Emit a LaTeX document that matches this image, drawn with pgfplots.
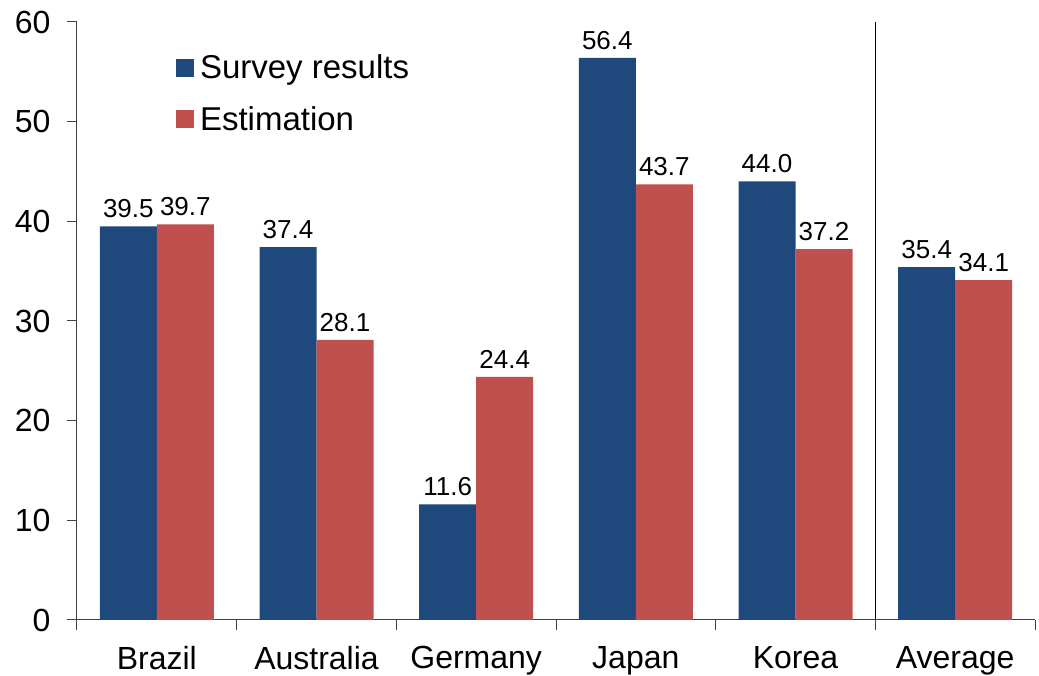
\documentclass[border=0pt]{standalone}
\usepackage{fontspec}
\setmainfont{Liberation Sans}
\usepackage{pgfplots}
\pgfplotsset{compat=1.18}
\definecolor{survey}{HTML}{1F497D}
\definecolor{estim}{HTML}{C0504D}
\definecolor{axisgray}{HTML}{404040}
\begin{document}
\begin{tikzpicture}
\useasboundingbox (-77pt,-56pt) rectangle (962pt,620pt);
\begin{axis}[
  at={(0pt,0pt)}, anchor=south west,
  scale only axis, width=958pt, height=598pt,
  xmin=-0.5, xmax=5.5, ymin=0, ymax=60,
  ybar=0pt, bar width=57pt,
  axis x line*=bottom, axis y line*=left,
  axis line style={axisgray, line width=1pt},
  tick align=outside, major tick length=10pt,
  tick style={axisgray, line width=1pt},
  ytick={0,10,...,60},
  xtick={-0.5,0.5,...,5.5},
  x tick label as interval,
  xticklabels={Brazil,Australia,Germany,Japan,Korea,Average},
  xticklabel style={font=\fontsize{32}{38}\selectfont, yshift=-13pt},
  yticklabel style={font=\fontsize{32}{38}\selectfont, xshift=-13pt},
  /pgf/number format/assume math mode=true,
  nodes near coords,
  nodes near coords style={font=\fontsize{26}{30}\selectfont, anchor=south, yshift=5pt,
    /pgf/number format/fixed, /pgf/number format/fixed zerofill, /pgf/number format/precision=1},
  legend style={at={(0.1,0.952)}, anchor=north west, draw=none, fill=none,
    font=\fontsize{33}{39}\selectfont, row sep=22pt, column sep=4pt},
  legend cell align=left,
  legend image code/.code={\fill[#1] (0pt,-9pt) rectangle (18pt,9pt);},
  clip=false,
]
\addplot[fill=survey, draw=none] coordinates {
  (0,39.5) (1,37.4) (2,11.6) (3,56.4) (4,44.0) (5,35.4)};
\addlegendentry{Survey results}
\addplot[fill=estim, draw=none] coordinates {
  (0,39.7) (1,28.1) (2,24.4) (3,43.7) (4,37.2) (5,34.1)};
\addlegendentry{Estimation}
% separator between the countries and the average
\draw[black, line width=1pt] (axis cs:4.5,0) -- (axis cs:4.5,60);
\end{axis}
\end{tikzpicture}
\end{document}
